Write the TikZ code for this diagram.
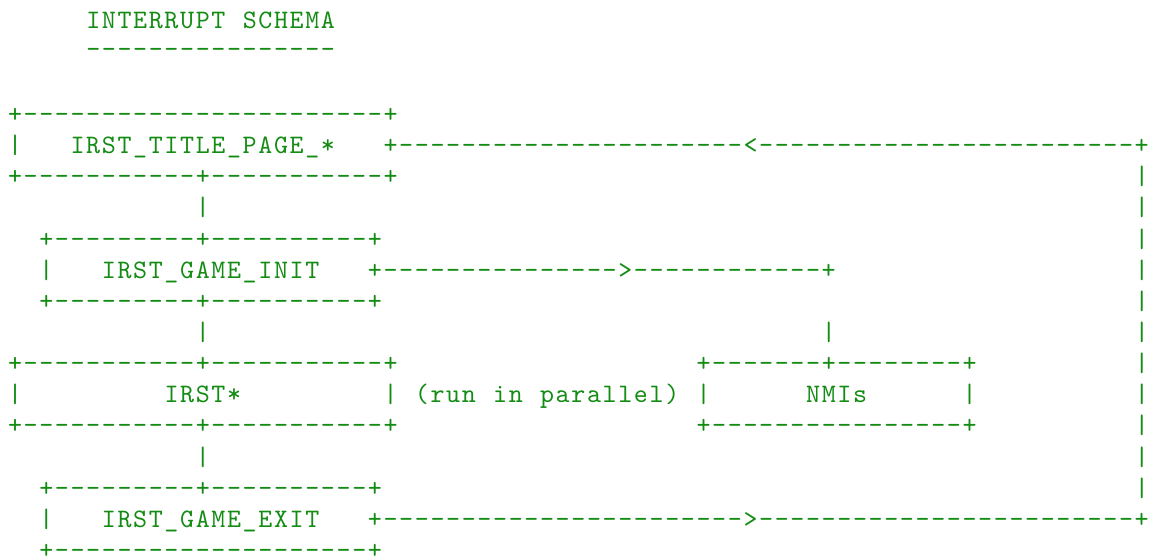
\documentclass[tikz,border=0pt]{standalone}
\usepackage{xcolor}
% typewriter face, tracked out so every character cell is 15.65px wide
\font\asciifont="[lmmono10-regular]:letterspace=6.18" at 20pt
\definecolor{asciigreen}{RGB}{20,140,20}
\tikzset{
  ascii/.style={anchor=base west, inner sep=0pt, outer sep=0pt,
    text=asciigreen, font=\asciifont}
}
% \asciiseg{name}{row}{column}{characters}
\newcommand\asciiseg[4]{\node[ascii] (#1) at ({8.0+15.65*(#3)},{28.9+31.16*(#2)}) {#4};}
\begin{document}
\begin{tikzpicture}[x=0.75pt,y=-0.75pt]
\fill[white] (0,0) rectangle (1152,557);
\useasboundingbox (0,0) rectangle (1152,557);

% heading
\asciiseg{head1}{0}{5}{INTERRUPT}
\asciiseg{head2}{0}{15}{SCHEMA}
\asciiseg{headrule}{0.91}{5}{----------------}

% title page box and return path
\asciiseg{tp-top}{3}{0}{+-----------------------+}
\asciiseg{tp-left}{4}{0}{|}
\asciiseg{tp-label}{4}{4}{IRST\_TITLE\_PAGE\_*}
\asciiseg{back-path}{4}{24}{+----------------------<------------------------+}
\asciiseg{tp-bot}{5}{0}{+-----------+-----------+}
\asciiseg{back-5}{5}{72}{|}

\asciiseg{link-1}{6}{12}{|}
\asciiseg{back-6}{6}{72}{|}

% game init box and path to the NMIs
\asciiseg{gi-top}{7}{2}{+---------+----------+}
\asciiseg{back-7}{7}{72}{|}
\asciiseg{gi-left}{8}{2}{|}
\asciiseg{gi-label}{8}{6}{IRST\_GAME\_INIT}
\asciiseg{nmi-path}{8}{23}{+--------------->------------+}
\asciiseg{back-8}{8}{72}{|}
\asciiseg{gi-bot}{9}{2}{+---------+----------+}
\asciiseg{back-9}{9}{72}{|}

\asciiseg{link-2}{10}{12}{|}
\asciiseg{nmi-drop}{10}{52}{|}
\asciiseg{back-10}{10}{72}{|}

% main loop box beside the NMIs box
\asciiseg{ir-top}{11}{0}{+-----------+-----------+}
\asciiseg{nm-top}{11}{44}{+-------+--------+}
\asciiseg{back-11}{11}{72}{|}
\asciiseg{ir-left}{12}{0}{|}
\asciiseg{ir-label}{12}{10}{IRST*}
\asciiseg{ir-right}{12}{24}{|}
\asciiseg{par1}{12}{26}{(run}
\asciiseg{par2}{12}{31}{in}
\asciiseg{par3}{12}{34}{parallel)}
\asciiseg{nm-left}{12}{44}{|}
\asciiseg{nm-label}{12}{51}{NMIs}
\asciiseg{nm-right}{12}{61}{|}
\asciiseg{back-12}{12}{72}{|}
\asciiseg{ir-bot}{13}{0}{+-----------+-----------+}
\asciiseg{nm-bot}{13}{44}{+----------------+}
\asciiseg{back-13}{13}{72}{|}

\asciiseg{link-3}{14}{12}{|}
\asciiseg{back-14}{14}{72}{|}

% game exit box and path back to the title page
\asciiseg{ge-top}{15}{2}{+---------+----------+}
\asciiseg{back-15}{15}{72}{|}
\asciiseg{ge-left}{16}{2}{|}
\asciiseg{ge-label}{16}{6}{IRST\_GAME\_EXIT}
\asciiseg{exit-path}{16}{23}{+----------------------->------------------------+}
\asciiseg{ge-bot}{17}{2}{+--------------------+}
\end{tikzpicture}
\end{document}
